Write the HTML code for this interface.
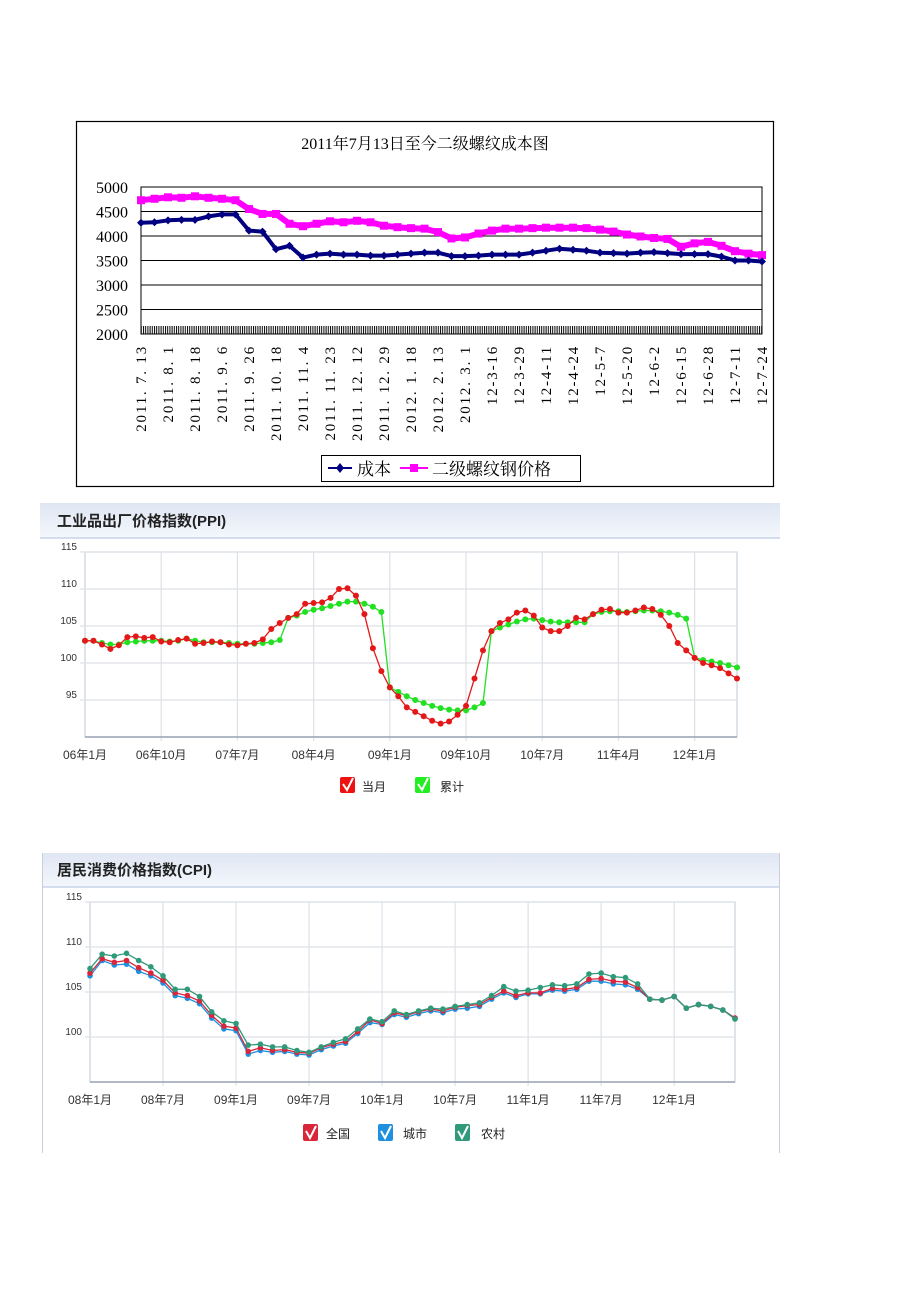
<!DOCTYPE html>
<html><head><meta charset="utf-8">
<style>
html,body{margin:0;padding:0;background:#fff;}
svg{display:block;}
text{font-family:"Liberation Sans","Noto Sans CJK SC",sans-serif;}
.serif{font-family:"Liberation Serif","Noto Serif CJK SC",serif;}
</style></head>
<body>
<svg id="page" width="920" height="1302" viewBox="0 0 920 1302" xmlns="http://www.w3.org/2000/svg">
<defs>
<linearGradient id="hdr" x1="0" y1="0" x2="0" y2="1">
<stop offset="0" stop-color="#dfe6f3"/><stop offset="1" stop-color="#f4f7fc"/>
</linearGradient>
<pattern id="ticks" width="2.2" height="8" patternUnits="userSpaceOnUse">
<rect x="0" y="0" width="1" height="8" fill="#000"/>
</pattern>
</defs>

<!-- Chart 1 -->
<g id="c1">
<rect x="76.5" y="121.5" width="697" height="365" fill="#fff" stroke="#000" stroke-width="1.2"/>
<text x="425" y="149" text-anchor="middle" font-size="16" class="serif">2011年7月13日至今二级螺纹成本图</text>
<rect x="141" y="187" width="621" height="147" fill="#fff" stroke="#000" stroke-width="1"/>
<g id="c1grid"></g>
<rect x="141" y="326" width="621" height="8" fill="url(#ticks)"/>
<g id="c1ylab"></g>
<g id="c1xlab"></g>
<g id="c1series"></g>
<g>
<rect x="321.5" y="455.5" width="259" height="26" fill="#fff" stroke="#000"/>
<line x1="328" y1="468" x2="352" y2="468" stroke="#000080" stroke-width="2"/>
<path d="M340 463 L344 468 L340 473 L336 468Z" fill="#000080"/>
<text x="357" y="475" font-size="17" class="serif">成本</text>
<line x1="400" y1="468" x2="428" y2="468" stroke="#ff00ff" stroke-width="2"/>
<rect x="410" y="464" width="8" height="8" fill="#ff00ff"/>
<text x="432" y="475" font-size="17" class="serif">二级螺纹钢价格</text>
</g>
</g>

<!-- Chart 2 PPI -->
<g id="c2">
<rect x="40" y="503" width="740" height="35" fill="url(#hdr)"/>
<line x1="40" y1="538" x2="780" y2="538" stroke="#c5d3e8" stroke-width="1.5"/>
<text x="57" y="526" font-size="15" font-weight="bold" fill="#222">工业品出厂价格指数(PPI)</text>
<g id="c2grid"></g>
<g id="c2series"></g>
<g>
<rect x="340" y="777" width="15" height="16" rx="2" fill="#ee1111"/>
<path d="M343 784 L347 790 L353 778" stroke="#fff" stroke-width="2" fill="none"/>
<text x="362" y="791" font-size="12" fill="#222">当月</text>
<rect x="415" y="777" width="15" height="16" rx="2" fill="#22ee22"/>
<path d="M418 784 L422 790 L428 778" stroke="#fff" stroke-width="2" fill="none"/>
<text x="440" y="791" font-size="12" fill="#222">累计</text>
</g>
</g>

<!-- Chart 3 CPI -->
<g id="c3">
<rect x="42" y="853" width="738" height="34" fill="url(#hdr)"/>
<line x1="42" y1="887" x2="780" y2="887" stroke="#c5d3e8" stroke-width="1.5"/>
<line x1="42.5" y1="853" x2="42.5" y2="1153" stroke="#c8cfdb"/>
<line x1="779.5" y1="853" x2="779.5" y2="1153" stroke="#c8cfdb"/>
<text x="57" y="875" font-size="15" font-weight="bold" fill="#222">居民消费价格指数(CPI)</text>
<g id="c3grid"></g>
<g id="c3series"></g>
<g>
<rect x="303" y="1124" width="15" height="17" rx="2" fill="#d9263b"/>
<path d="M306 1131 L310 1138 L316 1126" stroke="#fff" stroke-width="2" fill="none"/>
<text x="326" y="1138" font-size="12" fill="#222">全国</text>
<rect x="378" y="1124" width="15" height="17" rx="2" fill="#1e90e0"/>
<path d="M381 1131 L385 1138 L391 1126" stroke="#fff" stroke-width="2" fill="none"/>
<text x="403" y="1138" font-size="12" fill="#222">城市</text>
<rect x="455" y="1124" width="15" height="17" rx="2" fill="#2e9a7a"/>
<path d="M458 1131 L462 1138 L468 1126" stroke="#fff" stroke-width="2" fill="none"/>
<text x="481" y="1138" font-size="12" fill="#222">农村</text>
</g>
</g>
</svg>

<script>
// ---------- Chart 1 data ----------
const c1Labels = ["2011. 7. 13","2011. 8. 1","2011. 8. 18","2011. 9. 6","2011. 9. 26","2011. 10. 18","2011. 11. 4","2011. 11. 23","2011. 12. 12","2011. 12. 29","2012. 1. 18","2012. 2. 13","2012. 3. 1","12-3-16","12-3-29","12-4-11","12-4-24","12-5-7","12-5-20","12-6-2","12-6-15","12-6-28","12-7-11","12-7-24"];
const c1YTicks = [2000,2500,3000,3500,4000,4500,5000];
const c1Cost = [4270,4280,4320,4330,4330,4400,4440,4440,4110,4090,3730,3800,3560,3620,3640,3620,3620,3600,3600,3620,3640,3660,3660,3590,3590,3600,3620,3620,3620,3660,3700,3740,3720,3700,3660,3650,3640,3660,3670,3650,3630,3630,3630,3580,3500,3500,3480];
const c1Price = [4730,4760,4790,4780,4810,4780,4760,4730,4550,4450,4450,4250,4200,4250,4300,4280,4310,4280,4210,4180,4160,4150,4080,3950,3970,4050,4110,4150,4150,4160,4170,4170,4170,4160,4130,4090,4030,3990,3960,3940,3780,3850,3880,3800,3690,3640,3610];

// ---------- Chart 2 data (Jan 2006 - Jun 2012) ----------
const ppiXLabels = ["06年1月","06年10月","07年7月","08年4月","09年1月","09年10月","10年7月","11年4月","12年1月"];
const ppiYTicks = [95,100,105,110,115];
const ppiMonth = [103.0,103.0,102.5,101.9,102.4,103.5,103.6,103.4,103.5,102.9,102.8,103.1,
103.3,102.6,102.7,102.9,102.8,102.5,102.4,102.6,102.7,103.2,104.6,105.4,
106.1,106.6,108.0,108.1,108.2,108.8,110.0,110.1,109.1,106.6,102.0,98.9,
96.7,95.5,94.0,93.4,92.8,92.2,91.8,92.1,93.0,94.2,97.9,101.7,
104.3,105.4,105.9,106.8,107.1,106.4,104.8,104.3,104.3,105.0,106.1,105.9,
106.6,107.2,107.3,106.8,106.8,107.1,107.5,107.3,106.5,105.0,102.7,101.7,
100.7,100.0,99.7,99.3,98.6,97.9];
const ppiCum = [103.0,103.0,102.7,102.5,102.5,102.8,102.9,103.0,103.0,103.0,102.9,103.0,
103.3,103.0,102.8,102.8,102.8,102.7,102.6,102.6,102.6,102.7,102.8,103.1,
106.1,106.4,106.9,107.2,107.4,107.7,108.0,108.3,108.3,108.0,107.6,106.9,
96.7,96.1,95.5,95.0,94.6,94.2,93.9,93.7,93.6,93.6,94.0,94.6,
104.3,104.8,105.2,105.6,105.9,106.0,105.8,105.6,105.5,105.5,105.5,105.5,
106.6,106.9,107.0,107.0,106.9,107.0,107.1,107.1,107.0,106.8,106.5,106.0,
100.7,100.4,100.2,100.0,99.7,99.4];

// ---------- Chart 3 data (Jan 2008 - Jun 2012) ----------
const cpiXLabels = ["08年1月","08年7月","09年1月","09年7月","10年1月","10年7月","11年1月","11年7月","12年1月"];
const cpiYTicks = [100,105,110,115];
const cpiNational = [107.1,108.7,108.3,108.5,107.7,107.1,106.3,104.9,104.6,104.0,102.4,101.2,
101.0,98.4,98.8,98.5,98.6,98.3,98.2,98.8,99.2,99.5,100.6,101.9,
101.5,102.7,102.4,102.8,103.1,102.9,103.3,103.5,103.6,104.4,105.1,104.6,
104.9,104.9,105.4,105.3,105.5,106.4,106.5,106.2,106.1,105.5,104.2,104.1,
104.5,103.2,103.6,103.4,103.0,102.1];
const cpiUrban = [106.8,108.5,108.0,108.1,107.3,106.8,106.0,104.6,104.3,103.7,102.1,100.9,
100.7,98.1,98.5,98.3,98.4,98.1,98.0,98.6,99.0,99.3,100.4,101.6,
101.4,102.5,102.2,102.6,102.9,102.7,103.1,103.2,103.4,104.2,104.9,104.4,
104.8,104.8,105.2,105.1,105.3,106.2,106.2,105.9,105.8,105.3,104.2,104.1,
104.5,103.2,103.6,103.4,103.0,102.1];
const cpiRural = [107.6,109.2,109.0,109.3,108.5,107.8,106.8,105.3,105.3,104.5,102.8,101.8,
101.5,99.1,99.2,98.9,98.9,98.5,98.3,98.9,99.4,99.8,100.9,102.0,
101.7,102.9,102.5,102.9,103.2,103.1,103.4,103.6,103.8,104.6,105.6,105.1,
105.2,105.5,105.8,105.7,105.9,107.0,107.1,106.7,106.6,105.9,104.2,104.1,
104.5,103.2,103.6,103.4,103.0,102.0];

const NS = "http://www.w3.org/2000/svg";
function mk(parent, tag, attrs){const e=document.createElementNS(NS,tag);for(const k in attrs)e.setAttribute(k,attrs[k]);parent.appendChild(e);return e;}

// ---------- Chart 1 ----------
(function(){
  const L=141,R=762,T=187,B=334, ymin=2000,ymax=5000;
  const y=v=>B-(v-ymin)/(ymax-ymin)*(B-T);
  const nL=c1Labels.length;
  const xl=i=>L+i*(R-L)/(nL-1);
  const grid=document.getElementById('c1grid'), yl=document.getElementById('c1ylab'), xg=document.getElementById('c1xlab'), sg=document.getElementById('c1series');
  c1YTicks.forEach(v=>{
    if(v>ymin&&v<ymax){const g=mk(grid,'line',{x1:L,x2:R,y1:y(v),y2:y(v),stroke:'#000','stroke-width':1});
      
      }
    const t=mk(yl,'text',{x:128,y:y(v)+6,'text-anchor':'end','font-size':16,class:'serif'});
    t.textContent=v;
    
    
  });
  c1Labels.forEach((s,i)=>{
    const t=mk(xg,'text',{x:0,y:0,'text-anchor':'end','font-size':15,class:'serif',transform:`translate(${xl(i)+5},345) rotate(-90)`,'letter-spacing':'1.8'});
    t.textContent=s;
    
    
  });
  function series(arr,color,w,name,marker){
    const n=arr.length, xs=i=>L+i*(R-L)/(n-1);
    const pts=arr.map((v,i)=>xs(i).toFixed(1)+','+y(v).toFixed(1)).join(' ');
    const p=mk(sg,'polyline',{points:pts,fill:'none',stroke:color,'stroke-width':w,'stroke-linejoin':'round'});
    
    
    arr.forEach((v,i)=>{
      let m;
      if(marker==='sq'){m=mk(sg,'rect',{x:xs(i)-4,y:y(v)-4,width:8,height:8,fill:color});}
      else{const cx=xs(i),cy=y(v);m=mk(sg,'path',{d:`M${cx} ${cy-4}L${cx+4} ${cy}L${cx} ${cy+4}L${cx-4} ${cy}Z`,fill:color});}
      
      
    });
  }
  series(c1Price,'#ff00ff',6,'rebar-price','sq');
  series(c1Cost,'#000080',4,'cost','dia');
})();

// ---------- line chart helper for PPI/CPI ----------
function webChart(cfg){
  const {L,R,T,B,ymin,ymax,yTicks,xLabels,labelStep,n,gridId,serId}=cfg;
  const y=v=>B-(v-ymin)/(ymax-ymin)*(B-T);
  const x=i=>L+i*(R-L)/(n-1);
  const grid=document.getElementById(gridId), sg=document.getElementById(serId);
  const frame=mk(grid,'rect',{x:L,y:T,width:R-L,height:B-T,fill:'#fff',stroke:'#c9d1dc','stroke-width':1.2});
  
  
  yTicks.forEach(v=>{
    const g=mk(grid,'line',{x1:L-5,x2:R,y1:y(v),y2:y(v),stroke:'#dde1e8','stroke-width':1.2});
    
    
    const t=mk(grid,'text',{x:L-8,y:y(v)-2,'text-anchor':'end','font-size':10,fill:'#333'});
    t.textContent=v;
    
    
  });
  xLabels.forEach((s,k)=>{
    const xi=x(k*labelStep);
    if(k>0){const g=mk(grid,'line',{x1:xi,x2:xi,y1:T,y2:B+4,stroke:'#dde1e8','stroke-width':1.2});
      
      }
    const t=mk(grid,'text',{x:xi,y:B+22,'text-anchor':'middle','font-size':12,fill:'#333'});
    t.textContent=s;
    
    
  });
  const ax=mk(grid,'line',{x1:L,x2:R,y1:B,y2:B,stroke:'#9aa4b4','stroke-width':1.5});
  
  
  cfg.series.forEach(s=>{
    const pts=s.data.map((v,i)=>x(i).toFixed(1)+','+y(v).toFixed(1)).join(' ');
    const p=mk(sg,'polyline',{points:pts,fill:'none',stroke:s.color,'stroke-width':1.3});
    
    
    s.data.forEach((v,i)=>{
      const c=mk(sg,'circle',{cx:x(i),cy:y(v),r:s.r||2.8,fill:s.color});
      
      
    });
  });
}
webChart({name:'ppi',L:85,R:737,T:552,B:737,ymin:90,ymax:115,yTicks:ppiYTicks,xLabels:ppiXLabels,labelStep:9,n:ppiMonth.length,gridId:'c2grid',serId:'c2series',
  series:[{data:ppiCum,color:'#22e022',name:'ppi-cumulative',r:3},{data:ppiMonth,color:'#e41818',name:'ppi-current-month',r:3}]});
webChart({name:'cpi',L:90,R:735,T:902,B:1082,ymin:95,ymax:115,yTicks:cpiYTicks,xLabels:cpiXLabels,labelStep:6,n:cpiNational.length,gridId:'c3grid',serId:'c3series',
  series:[{data:cpiUrban,color:'#1e90e0',name:'cpi-urban'},{data:cpiNational,color:'#d9263b',name:'cpi-national'},{data:cpiRural,color:'#2e9a7a',name:'cpi-rural'}]});
</script>
</body></html>
